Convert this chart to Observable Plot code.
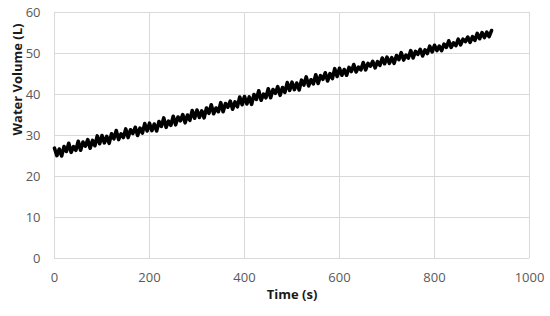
<!DOCTYPE html>
<html>
<head>
<meta charset="utf-8">
<script src="https://cdn.jsdelivr.net/npm/d3@7"></script>
<script src="https://cdn.jsdelivr.net/npm/@observablehq/plot@0.6"></script>
<style>
  html, body { margin: 0; padding: 0; background: #fff; }
  #chart { width: 550px; height: 316px; }
</style>
</head>
<body>
<div id="chart"></div>
<script>
// Sampling: one reading every 5 s from 0 s to 920 s
const timeStart = 0;
const timeStep = 5;
// Water volume readings (L)
const volume = [
  26.9,25.1,26.7,25.0,27.3,26.1,28.1,25.9,27.3,26.4,28.6,26.4,28.4,27.4,29.0,26.9,28.8,27.5,29.9,28.0,
  30.0,28.2,29.8,28.1,30.4,29.2,31.2,29.0,30.4,29.5,31.6,29.5,31.4,30.5,32.0,30.0,31.8,30.6,32.9,31.1,
  33.0,31.2,32.8,31.1,33.4,32.2,34.3,32.0,33.5,32.5,34.7,32.6,34.5,33.6,35.1,33.1,35.0,33.7,36.1,34.2,
  36.2,34.4,36.0,34.3,36.7,35.4,37.5,35.3,36.7,35.8,38.0,35.8,37.8,36.9,38.4,36.4,38.2,37.0,39.4,37.5,
  39.5,37.7,39.4,37.6,40.0,38.8,40.9,38.6,40.1,39.2,41.4,39.2,41.2,40.3,41.9,39.8,41.7,40.5,42.9,41.0,
  43.0,41.2,42.8,41.1,43.5,42.3,44.3,42.1,43.6,42.6,44.8,42.7,44.6,43.7,45.3,43.3,45.1,43.9,46.3,44.4,
  46.4,44.7,46.1,44.7,46.6,45.6,47.3,45.5,46.7,46.0,47.8,46.0,47.6,46.9,48.1,46.5,48.0,47.1,48.9,47.5,
  49.1,47.6,49.0,47.6,49.5,48.5,50.2,48.4,49.6,48.9,50.7,48.9,50.5,49.8,51.0,49.4,50.9,50.0,51.8,50.4,
  52.0,50.7,51.8,50.7,52.3,51.5,53.1,51.5,52.6,51.9,53.5,52.1,53.5,52.9,54.0,52.7,54.1,53.2,54.9,53.6,
  55.1,53.9,55.2,54.1,55.6
];
const xTicks = [0, 200, 400, 600, 800, 1000];
const yTicks = [0, 10, 20, 30, 40, 50, 60];
const xTitle = "Time (s)";
const yTitle = "Water Volume (L)";

const data = volume.map((v, i) => ({time: timeStart + i * timeStep, volume: v}));

const chart = Plot.plot({
  width: 550,
  height: 316,
  marginLeft: 54,
  marginRight: 21,
  marginTop: 12,
  marginBottom: 58,
  style: {fontFamily: "'Open Sans', sans-serif", fontSize: "13px", color: "#595959", background: "#fff"},
  x: {domain: [0, 1000]},
  y: {domain: [0, 60]},
  marks: [
    Plot.ruleX(xTicks, {stroke: "#d9d9d9", strokeWidth: 1}),
    Plot.ruleY(yTicks, {stroke: "#d9d9d9", strokeWidth: 1}),
    Plot.axisX(xTicks, {tickSize: 0, tickPadding: 14, label: null, fill: "#595959", fontSize: 13, tickFormat: d => String(d)}),
    Plot.axisY(yTicks, {tickSize: 0, tickPadding: 14, label: null, fill: "#595959", fontSize: 13, tickFormat: d => String(d)}),
    Plot.line(data, {x: "time", y: "volume", stroke: "#000", strokeWidth: 3.6}),
    Plot.text([xTitle], {frameAnchor: "bottom", dy: 40, fontWeight: "bold", fill: "#1a1a1a", fontSize: 13}),
    Plot.text([yTitle], {frameAnchor: "left", dx: -37, rotate: -90, fontWeight: "bold", fill: "#1a1a1a", fontSize: 13})
  ]
});
document.getElementById("chart").appendChild(chart);
</script>
</body>
</html>
